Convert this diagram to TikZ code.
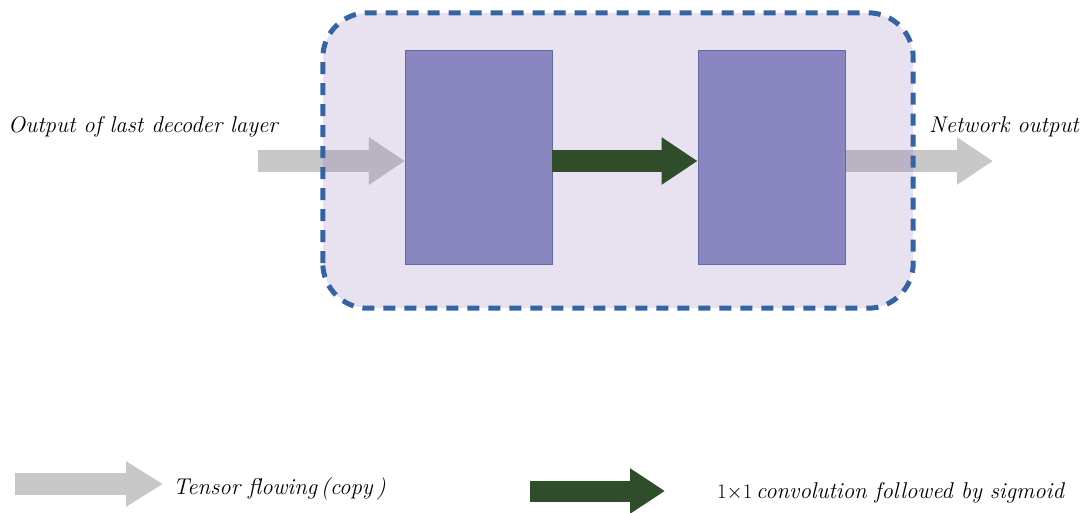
\documentclass[tikz,border=0pt]{standalone}
\usetikzlibrary{arrows.meta}
\definecolor{lav}{RGB}{232,226,240}
\definecolor{dashblue}{RGB}{52,100,165}
\definecolor{boxfill}{RGB}{137,134,192}
\definecolor{boxline}{RGB}{95,105,165}
\definecolor{flowgray}{RGB}{200,200,200}
\definecolor{flowin}{RGB}{186,179,196}
\definecolor{convgreen}{RGB}{47,77,42}
\tikzset{
  block/.style={draw=boxline, line width=0.8pt, fill=boxfill, minimum width=147pt, minimum height=214pt, inner sep=0pt},
  flow/.style={line width=22pt, -{Triangle[length=36pt,width=45pt]}},
  conv/.style={draw=convgreen, line width=22pt, -{Triangle[length=36pt,width=45pt]}},
  lbl/.style={font=\fontsize{22.8}{27}\selectfont\itshape, anchor=base west, inner sep=0pt}
}
\begin{document}
\begin{tikzpicture}[x=1pt,y=-1pt]
\useasboundingbox (0,0) rectangle (1086,512);
% frame background
\node[fill=lav, rounded corners=45pt, minimum width=590pt, minimum height=295pt, inner sep=0pt] (frame) at (618,160.5) {};
\coordinate (inS) at (258,161);
\coordinate (outE) at (993,161);
\node[minimum width=147pt, minimum height=214pt, inner sep=0pt] (Lph) at (478.5,157) {};
\node[minimum width=147pt, minimum height=214pt, inner sep=0pt] (Rph) at (771.5,157) {};
% gray arrows outside
\draw[flow, draw=flowgray] (inS) -- (Lph.west |- inS);
\draw[flow, draw=flowgray] (Rph.east |- inS) -- (outE);
% inside part
\begin{scope}
\clip[rounded corners=45pt] (frame.south west) rectangle (frame.north east);
\draw[flow, draw=flowin] (inS) -- (Lph.west |- inS);
\draw[flow, draw=flowin] (Rph.east |- inS) -- (outE);
\end{scope}
% frame border
\draw[dashblue, line width=5pt, dash pattern=on 12pt off 9pt, rounded corners=45pt] (frame.south west) rectangle (frame.north east);
% blocks
\node[block] (L) at (478.5,157) {};
\node[block] (R) at (771.5,157) {};
\draw[conv] (L.east |- inS) -- (R.west |- inS);
% labels
\node[lbl] (tin) at (8,132) {Output of last decoder layer};
\node[lbl] (tout) at (929,132) {Network output};
% legend
\coordinate (g1) at (15,484);
\coordinate (g2) at (163,484);
\draw[line width=22pt, draw=flowgray, -{Triangle[length=37pt,width=43pt]}] (g1) -- (g2);
\node[lbl] (tg) at (173,494) {Tensor flowing\,(copy\,)};
\coordinate (c1) at (530,491);
\coordinate (c2) at (665,491);
\draw[line width=21pt, draw=convgreen, -{Triangle[length=35pt,width=43pt]}] (c1) -- (c2);
\node[lbl] (tc) at (717,498) {\upshape$1{\times}1$\,\itshape convolution followed by sigmoid};
\end{tikzpicture}
\end{document}
